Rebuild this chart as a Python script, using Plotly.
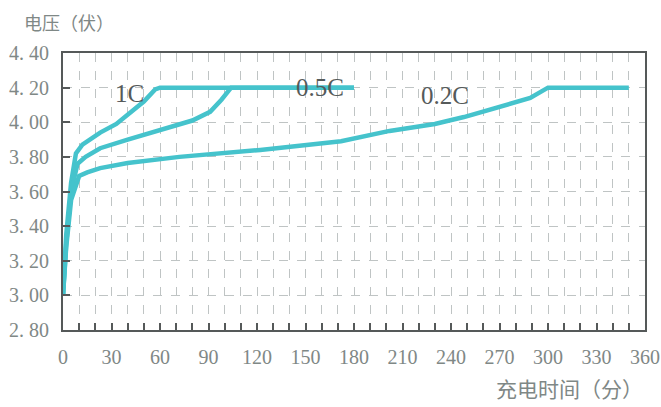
import plotly.graph_objects as go

# Charging time (min) and voltage (V) for each charge rate
t_1c = [0, 2, 5, 8, 12, 23, 33, 43, 50, 57, 60, 180]
v_1c = [3.00, 3.35, 3.65, 3.82, 3.87, 3.94, 3.99, 4.07, 4.12, 4.19, 4.20, 4.20]

t_05c = [0, 2, 5, 9, 14, 23, 40, 64, 80, 91, 98, 104, 180]
v_05c = [3.00, 3.30, 3.60, 3.76, 3.80, 3.85, 3.90, 3.965, 4.01, 4.06, 4.13, 4.20, 4.20]

t_02c = [0, 2, 5, 10, 15, 23, 40, 72, 122, 172, 202, 230, 248, 270, 289, 300, 350]
v_02c = [3.00, 3.28, 3.55, 3.69, 3.71, 3.735, 3.765, 3.80, 3.84, 3.89, 3.95, 3.99, 4.03, 4.09, 4.14, 4.20, 4.20]

series_names = ["1C", "0.5C", "0.2C"]
label_pos_t = [41, 159, 236]
label_pos_v = [4.165, 4.2, 4.155]

x_tickvals = list(range(0, 361, 30))
x_ticktext = [str(v) for v in x_tickvals]
y_tickvals = [2.8, 3.0, 3.2, 3.4, 3.6, 3.8, 4.0, 4.2, 4.4]
y_ticktext = ["2. 80", "3. 00", "3. 20", "3. 40", "3. 60", "3. 80", "4. 00", "4. 20", "4. 40"]

line_color = "#45c3cc"
axis_color = "#555959"
grid_color = "#bfc4c4"
tick_font = dict(family="Liberation Serif", size=20, color="#7f8886")

fig = go.Figure()
for t, v, name in zip([t_1c, t_05c, t_02c], [v_1c, v_05c, v_02c], series_names):
    fig.add_trace(go.Scatter(x=t, y=v, mode="lines", name=name,
                             line=dict(color=line_color, width=4.5),
                             showlegend=False, hoverinfo="skip"))

for name, tx, vy in zip(series_names, label_pos_t, label_pos_v):
    fig.add_annotation(x=tx, y=vy, text=name, showarrow=False,
                       font=dict(family="Liberation Serif", size=25, color="#555a5a"),
                       xanchor="center", yanchor="middle")

fig.add_annotation(xref="paper", yref="paper", x=-0.07, y=1.112, text="电压（伏）",
                   showarrow=False, xanchor="left", yanchor="middle",
                   font=dict(family="Noto Sans CJK SC", size=18, color="#7f8886"))
fig.add_annotation(xref="paper", yref="paper", x=1.0, y=-0.21, text="充电时间（分）",
                   showarrow=False, xanchor="right", yanchor="middle",
                   font=dict(family="Noto Sans CJK SC", size=21, color="#7f8886"))

fig.update_layout(
    width=661, height=407,
    margin=dict(l=63, r=16, t=53, b=77, autoexpand=False),
    paper_bgcolor="white", plot_bgcolor="white",
    xaxis=dict(range=[0, 360], tickvals=x_tickvals, ticktext=x_ticktext,
               tickfont=tick_font, ticks="inside", ticklen=7, tickwidth=2,
               tickcolor=axis_color, showline=True, linecolor=axis_color,
               linewidth=2, mirror=True, showgrid=True, gridcolor=grid_color,
               griddash="dash", gridwidth=1, zeroline=False, ticklabelstandoff=8,
               automargin=False,
               minor=dict(dtick=10, tick0=0, ticks="inside", ticklen=7,
                          tickwidth=2, tickcolor=axis_color, showgrid=True,
                          gridcolor=grid_color, griddash="dash", gridwidth=1)),
    yaxis=dict(range=[2.8, 4.4], tickvals=y_tickvals, ticktext=y_ticktext,
               tickfont=tick_font, ticks="inside", ticklen=7, tickwidth=2,
               tickcolor=axis_color, showline=True, linecolor=axis_color,
               linewidth=2, mirror=True, showgrid=True, gridcolor=grid_color,
               griddash="dash", gridwidth=1, zeroline=False, ticklabelstandoff=8,
               automargin=False),
)

fig.write_html("out.html", config={"displayModeBar": False},
               post_script="document.body.style.margin='0';")
